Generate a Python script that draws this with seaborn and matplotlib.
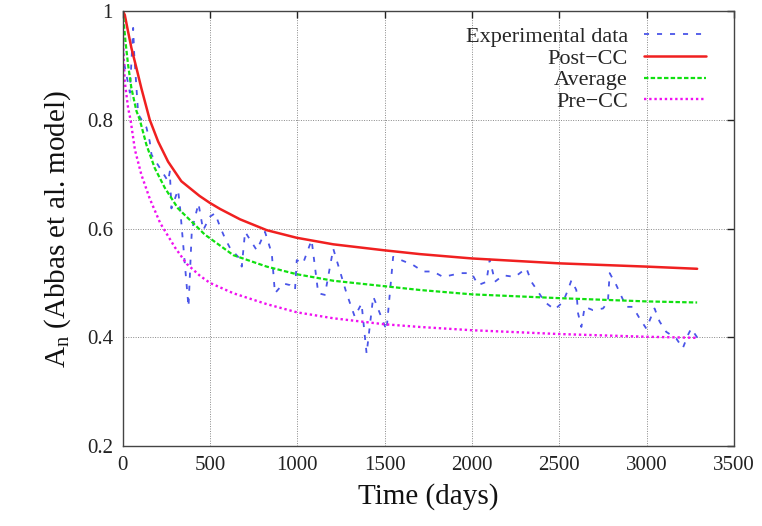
import matplotlib
matplotlib.use("Agg")
import matplotlib.pyplot as plt
import seaborn as sns
import pandas as pd
from matplotlib.ticker import FuncFormatter

# ---- data ----
post_x = [0, 12, 31, 50, 79, 107, 155, 203, 260, 336, 440, 500, 558, 672, 825, 997,
          1206, 1498, 1702, 2000, 2500, 3000, 3290]
post_y = [1.0, 0.993, 0.962, 0.932, 0.895, 0.858, 0.80, 0.760, 0.723, 0.687, 0.660,
          0.647, 0.636, 0.617, 0.597, 0.583, 0.571, 0.560, 0.553, 0.545, 0.536, 0.530, 0.526]

avg_x = [0, 16, 31, 50, 79, 98, 136, 184, 241, 317, 413, 470, 634, 825, 997, 1206,
         1498, 1702, 2000, 2500, 3000, 3290]
avg_y = [1.0, 0.944, 0.901, 0.858, 0.816, 0.80, 0.754, 0.711, 0.675, 0.637, 0.607,
         0.589, 0.551, 0.530, 0.516, 0.504, 0.494, 0.487, 0.479, 0.472, 0.466, 0.464]

pre_x = [0, 12, 31, 45, 70, 107, 155, 215, 300, 367, 443, 500, 634, 825, 997, 1206,
         1498, 1702, 2000, 2500, 3000, 3290]
pre_y = [0.96, 0.87, 0.822, 0.80, 0.745, 0.699, 0.655, 0.61, 0.565, 0.535, 0.513,
         0.500, 0.481, 0.461, 0.446, 0.435, 0.424, 0.419, 0.413, 0.406, 0.401, 0.399]

exp_x = [0, 5, 41, 60, 66, 41, 89, 136, 155, 165, 260, 270, 279, 317, 327, 377, 396,
         434, 461, 500, 529, 558, 586, 615, 661, 682, 701, 768, 815, 854, 872, 920,
         958, 987, 997, 1033, 1082, 1120, 1158, 1206, 1282, 1329, 1368, 1397, 1435,
         1511, 1549, 1663, 1721, 1778, 1835, 1892, 1940, 1998, 2036, 2083, 2102, 2121,
         2131, 2179, 2246, 2312, 2341, 2379, 2417, 2474, 2522, 2550, 2570, 2598, 2608,
         2627, 2646, 2693, 2751, 2779, 2789, 2827, 2884, 2922, 2960, 2999, 3027, 3046,
         3075, 3113, 3170, 3208, 3237, 3256, 3294]
exp_y = [0.95, 0.91, 0.865, 0.969, 0.921, 0.835, 0.810, 0.786, 0.760, 0.736, 0.687,
         0.705, 0.637, 0.671, 0.644, 0.456, 0.597, 0.646, 0.597, 0.622, 0.628, 0.603,
         0.582, 0.564, 0.548, 0.530, 0.594, 0.56, 0.594, 0.554, 0.481, 0.499, 0.496,
         0.487, 0.542, 0.536, 0.579, 0.481, 0.478, 0.563, 0.481, 0.438, 0.462, 0.370,
         0.475, 0.413, 0.548, 0.533, 0.521, 0.521, 0.511, 0.515, 0.518, 0.518, 0.496,
         0.502, 0.543, 0.518, 0.502, 0.514, 0.511, 0.527, 0.502, 0.484, 0.465, 0.451,
         0.465, 0.487, 0.505, 0.487, 0.444, 0.419, 0.456, 0.450, 0.453, 0.465, 0.518,
         0.496, 0.456, 0.456, 0.435, 0.416, 0.438, 0.453, 0.429, 0.410, 0.398, 0.380,
         0.404, 0.416, 0.398]

x_ticks = [0, 500, 1000, 1500, 2000, 2500, 3000, 3500]
y_ticks = [0.2, 0.4, 0.6, 0.8, 1.0]

# ---- style ----
sns.set_theme(style="white")
plt.rcParams['font.family'] = ['Liberation Serif', 'DejaVu Serif']
plt.rcParams['mathtext.fontset'] = 'custom'
plt.rcParams['mathtext.rm'] = 'Liberation Serif'
plt.rcParams['mathtext.it'] = 'Liberation Serif:italic'

fig = plt.figure(figsize=(7.62, 5.26), dpi=100)
ax = fig.add_axes([0.161, 0.152, 0.802, 0.827])

df_exp = pd.DataFrame({"x": exp_x, "y": exp_y})
df_post = pd.DataFrame({"x": post_x, "y": post_y})
df_avg = pd.DataFrame({"x": avg_x, "y": avg_y})
df_pre = pd.DataFrame({"x": pre_x, "y": pre_y})

sns.lineplot(data=df_exp, x="x", y="y", ax=ax, sort=False, color="#4a55e8",
             lw=1.3, label="Experimental data")
ax.lines[-1].set_dashes((2.8, 4.4))
sns.lineplot(data=df_post, x="x", y="y", ax=ax, sort=False, color="#f02020",
             lw=1.8, label="Post\u2212CC")
sns.lineplot(data=df_avg, x="x", y="y", ax=ax, sort=False, color="#10e010",
             lw=1.6, label="Average")
ax.lines[-1].set_dashes((2.0, 1.0))
sns.lineplot(data=df_pre, x="x", y="y", ax=ax, sort=False, color="#f010f0",
             lw=1.7, label="Pre\u2212CC")
ax.lines[-1].set_dashes((1.0, 1.2))

ax.set_xlim(0, 3500)
ax.set_ylim(0.2, 1.0)
ax.set_xticks(x_ticks)
ax.set_yticks(y_ticks)
ax.yaxis.set_major_formatter(FuncFormatter(lambda v, p: f"{v:g}"))
ax.grid(True, color="#888888", linestyle=(0, (1, 1.5)), linewidth=0.7)
ax.tick_params(direction="in", length=5, width=1, top=True, right=True,
               labelsize=15, colors="#222222", pad=7)
for s in ax.spines.values():
    s.set_color("#444444")
    s.set_linewidth(1.0)

ax.set_xlabel("Time (days)", fontsize=21, color="#111111", labelpad=6)
ax.set_ylabel(r"$\mathrm{A_n}$ (Abbas et al. model)", fontsize=21, color="#111111", labelpad=10)

leg = ax.legend(loc="upper right", bbox_to_anchor=(0.976, 0.995), frameon=False,
                markerfirst=False, fontsize=16, handlelength=2.8, handletextpad=0.7,
                labelspacing=0.05, borderaxespad=0.2)
for t in leg.get_texts():
    t.set_ha("right")
for child in leg._legend_handle_box.get_children():
    child.align = "right"

fig.savefig("out.png", dpi=100)
